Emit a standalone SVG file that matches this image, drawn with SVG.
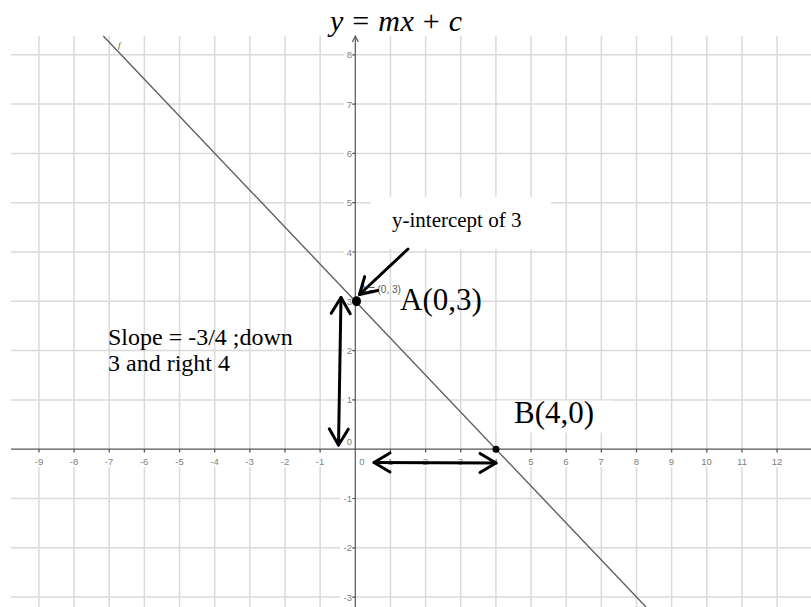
<svg xmlns="http://www.w3.org/2000/svg" width="811" height="607" viewBox="0 0 811 607">
<style>
.grid{stroke:#dadada;stroke-width:1.5;fill:none}
.axis{stroke:#555;stroke-width:1.2;fill:none}
.tick{font-family:"Liberation Sans",Arial,sans-serif;font-size:9.5px;fill:#808080}
.tx{text-anchor:middle}
.ty{text-anchor:end}
.lbl{font-family:"Liberation Serif","Times New Roman",serif;fill:#000}
.ann{stroke:#000;stroke-width:3;fill:none;stroke-linecap:round}
.wb{fill:#fff}
</style>
<defs>
<marker id="ah" viewBox="-20 -12 24 24" refX="0" refY="0" markerWidth="24" markerHeight="24" markerUnits="userSpaceOnUse" orient="auto-start-reverse">
<path d="M-16,-9.5 L0,0 L-16,9.5" fill="none" stroke="#000" stroke-width="3" stroke-linecap="round" stroke-linejoin="round"/>
</marker>
</defs>
<rect width="811" height="607" fill="#fff"/>

<g id="grid">
<path class="grid" d="M38.95,36V607M74.1,36V607M109.25,36V607M144.4,36V607M179.55,36V607M214.7,36V607M249.85,36V607M285,36V607M320.15,36V607M390.45,36V607M425.6,36V607M460.75,36V607M495.9,36V607M531.05,36V607M566.2,36V607M601.35,36V607M636.5,36V607M671.65,36V607M706.8,36V607M741.95,36V607M777.1,36V607"/>
<path class="grid" d="M11,54.8H811M11,104.1H811M11,153.4H811M11,202.7H811M11,252H811M11,301.3H811M11,350.6H811M11,399.9H811M11,498.5H811M11,547.8H811M11,597.1H811"/>
</g>

<g id="label-boxes">
<rect class="wb" x="371" y="197" width="180" height="52"/>
<rect class="wb" x="496.6" y="400.6" width="116" height="32"/>
<g class="wb">
<rect x="33" y="453" width="12" height="14"/><rect x="68" y="453" width="12" height="14"/><rect x="103" y="453" width="12" height="14"/><rect x="138" y="453" width="12" height="14"/><rect x="173" y="453" width="12" height="14"/><rect x="208" y="453" width="12" height="14"/><rect x="243" y="453" width="12" height="14"/><rect x="279" y="453" width="12" height="14"/><rect x="314" y="453" width="12" height="14"/><rect x="357" y="453" width="10" height="14"/><rect x="386" y="453" width="9" height="14"/><rect x="421" y="453" width="9" height="14"/><rect x="456" y="453" width="9" height="14"/><rect x="491" y="453" width="9" height="14"/><rect x="527" y="453" width="9" height="14"/><rect x="562" y="453" width="9" height="14"/><rect x="597" y="453" width="9" height="14"/><rect x="632" y="453" width="9" height="14"/><rect x="667" y="453" width="9" height="14"/><rect x="700" y="453" width="13" height="14"/><rect x="735" y="453" width="13" height="14"/><rect x="770" y="453" width="13" height="14"/>
<rect x="344" y="48" width="9" height="13"/><rect x="344" y="97" width="9" height="13"/><rect x="344" y="147" width="9" height="13"/><rect x="344" y="196" width="9" height="13"/><rect x="344" y="245" width="9" height="13"/><rect x="344" y="294" width="9" height="13"/><rect x="344" y="344" width="9" height="13"/><rect x="344" y="393" width="9" height="13"/><rect x="340" y="492" width="13" height="13"/><rect x="340" y="541" width="13" height="13"/><rect x="340" y="590" width="13" height="13"/>
</g>
</g>

<g id="axes">
<path class="axis" d="M11,449.2H811"/>
<path class="axis" d="M355.3,607V37"/>
<path class="axis" d="M352.3,42L355.3,36L358.3,42"/>
<path class="axis" d="M38.95,449.2v3M74.1,449.2v3M109.25,449.2v3M144.4,449.2v3M179.55,449.2v3M214.7,449.2v3M249.85,449.2v3M285,449.2v3M320.15,449.2v3M390.45,449.2v3M425.6,449.2v3M460.75,449.2v3M495.9,449.2v3M531.05,449.2v3M566.2,449.2v3M601.35,449.2v3M636.5,449.2v3M671.65,449.2v3M706.8,449.2v3M741.95,449.2v3M777.1,449.2v3M352.3,54.8h3M352.3,104.1h3M352.3,153.4h3M352.3,202.7h3M352.3,252h3M352.3,301.3h3M352.3,350.6h3M352.3,399.9h3M352.3,498.5h3M352.3,547.8h3M352.3,597.1h3"/>
<g class="tick tx">
<text x="39" y="465">-9</text><text x="74" y="465">-8</text><text x="109" y="465">-7</text><text x="144" y="465">-6</text><text x="179.5" y="465">-5</text><text x="214.5" y="465">-4</text><text x="249.5" y="465">-3</text><text x="285" y="465">-2</text><text x="320" y="465">-1</text><text x="362" y="465">0</text><text x="390.5" y="465">1</text><text x="425.5" y="465">2</text><text x="460.5" y="465">3</text><text x="495.5" y="465">4</text><text x="531" y="465">5</text><text x="566" y="465">6</text><text x="601" y="465">7</text><text x="636.5" y="465">8</text><text x="671.5" y="465">9</text><text x="706.5" y="465">10</text><text x="742" y="465">11</text><text x="777" y="465">12</text>
</g>
<g class="tick ty">
<text x="352" y="58.3">8</text><text x="352" y="107.6">7</text><text x="352" y="156.9">6</text><text x="352" y="206.2">5</text><text x="352" y="255.5">4</text><text x="352" y="304.8">3</text><text x="352" y="354.1">2</text><text x="352" y="403.4">1</text><text x="352" y="445">0</text><text x="352" y="502">-1</text><text x="352" y="551.3">-2</text><text x="352" y="600.6">-3</text>
</g>
</g>

<g id="line-f">
<path d="M103.3,36L646,607" stroke="#606060" stroke-width="1.4" fill="none"/>
<text x="118" y="48" font-family="Liberation Serif, serif" font-style="italic" font-size="9" fill="#555">f</text>
</g>

<g id="point-A">
<ellipse cx="356.5" cy="301.3" rx="4.5" ry="5" fill="#000"/>
<text x="360" y="293" font-family="Liberation Sans, Arial, sans-serif" font-size="10" fill="#555">A = (0, 3)</text>
<text class="lbl" x="400" y="310" font-size="31">A(0,3)</text>
</g>

<g id="point-B">
<circle cx="496" cy="449.2" r="3.5" fill="#000"/>
<text class="lbl" x="514" y="423" font-size="31">B(4,0)</text>
</g>

<g id="title">
<text x="330" y="31" font-family="Liberation Serif, 'Times New Roman', serif" font-size="30" fill="#000" textLength="132" lengthAdjust="spacing"><tspan font-style="italic">y</tspan> = <tspan font-style="italic">mx</tspan> + <tspan font-style="italic">c</tspan></text>
</g>

<g id="intercept-label">
<text class="lbl" x="392" y="227" font-size="21">y-intercept of 3</text>
</g>

<g id="slope-label">
<text class="lbl" x="108" y="345" font-size="24">Slope = -3/4 ;down</text>
<text class="lbl" x="108" y="371" font-size="24">3 and right 4</text>
</g>

<g id="connectors">
<path class="ann" d="M408,249L359.5,294.5" marker-end="url(#ah)"/>
<path class="ann" d="M341,297.5L338.5,445" marker-start="url(#ah)" marker-end="url(#ah)"/>
<path class="ann" d="M374,462.5L496,463" marker-start="url(#ah)" marker-end="url(#ah)"/>
</g>
</svg>
